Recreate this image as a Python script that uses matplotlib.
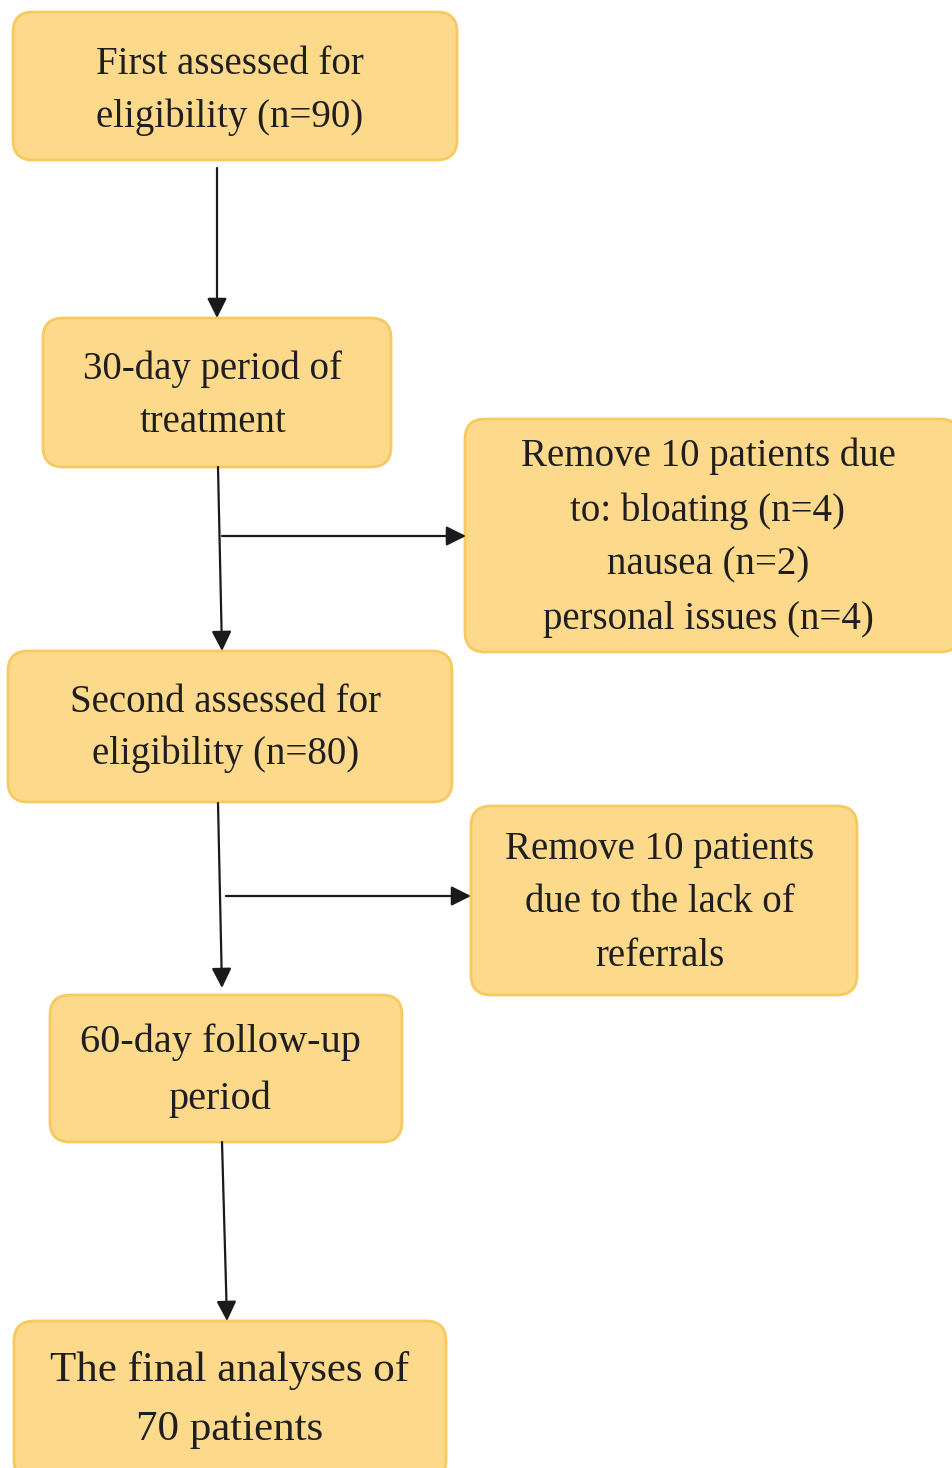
import matplotlib.pyplot as plt
from matplotlib.patches import FancyBboxPatch

plt.rcParams['font.family'] = ['Liberation Serif', 'DejaVu Serif']

# box texts
labels = [
    "First assessed for\neligibility (n=90)",
    "30-day period of\ntreatment",
    "Remove 10 patients due\nto: bloating (n=4)\nnausea (n=2)\npersonal issues (n=4)",
    "Second assessed for\neligibility (n=80)",
    "Remove 10 patients\ndue to the lack of\nreferrals",
    "60-day follow-up\nperiod",
    "The final analyses of\n70 patients",
]

# layout in pixels: left, top, right, bottom
boxes = [
    (13, 12, 457, 160),
    (43, 318, 391, 467),
    (465, 419, 960, 652),
    (8, 651, 452, 802),
    (471, 806, 857, 995),
    (50, 995, 402, 1142),
    (14, 1321, 446, 1480),
]
text_y = [
    [64, 117],
    [369, 423],
    [456, 511, 565, 619],
    [702, 754],
    [849, 902, 956],
    [1042, 1099],
    [1370, 1430],
]
text_x = [230, 213, 708, 226, 660, 220, 230]
font_sizes = [28, 28, 28, 28, 28, 29, 31]

# arrows: (x0, y0, x1, y1)
arrows = [
    (217, 168, 217, 318),
    (218, 467, 222, 651),
    (222, 536, 466, 536),
    (218, 803, 222, 988),
    (226, 896, 471, 896),
    (222, 1142, 227, 1321),
]

fig = plt.figure(figsize=(9.53, 14.68), dpi=100)
ax = fig.add_axes([0, 0, 1, 1])
ax.set_xlim(0, 953)
ax.set_ylim(1468, 0)
ax.axis('off')

fill = '#fdd98c'
edge = '#f6ca60'

for (l, t, r, b), lab, ys, cx, fs in zip(boxes, labels, text_y, text_x, font_sizes):
    p = FancyBboxPatch((l, t), r - l, b - t,
                       boxstyle="round,pad=0,rounding_size=20",
                       facecolor=fill, edgecolor=edge, linewidth=2)
    ax.add_patch(p)
    for line, y in zip(lab.split("\n"), ys):
        ax.text(cx, y, line, ha='center', va='center',
                fontsize=fs, color='#1e1e1e')

for x0, y0, x1, y1 in arrows:
    ax.annotate("", xy=(x1, y1), xytext=(x0, y0),
                arrowprops=dict(arrowstyle='-|>', color='#1a1a1a',
                                lw=1.6, mutation_scale=30,
                                shrinkA=0, shrinkB=0))

fig.savefig("out.png", dpi=100)
